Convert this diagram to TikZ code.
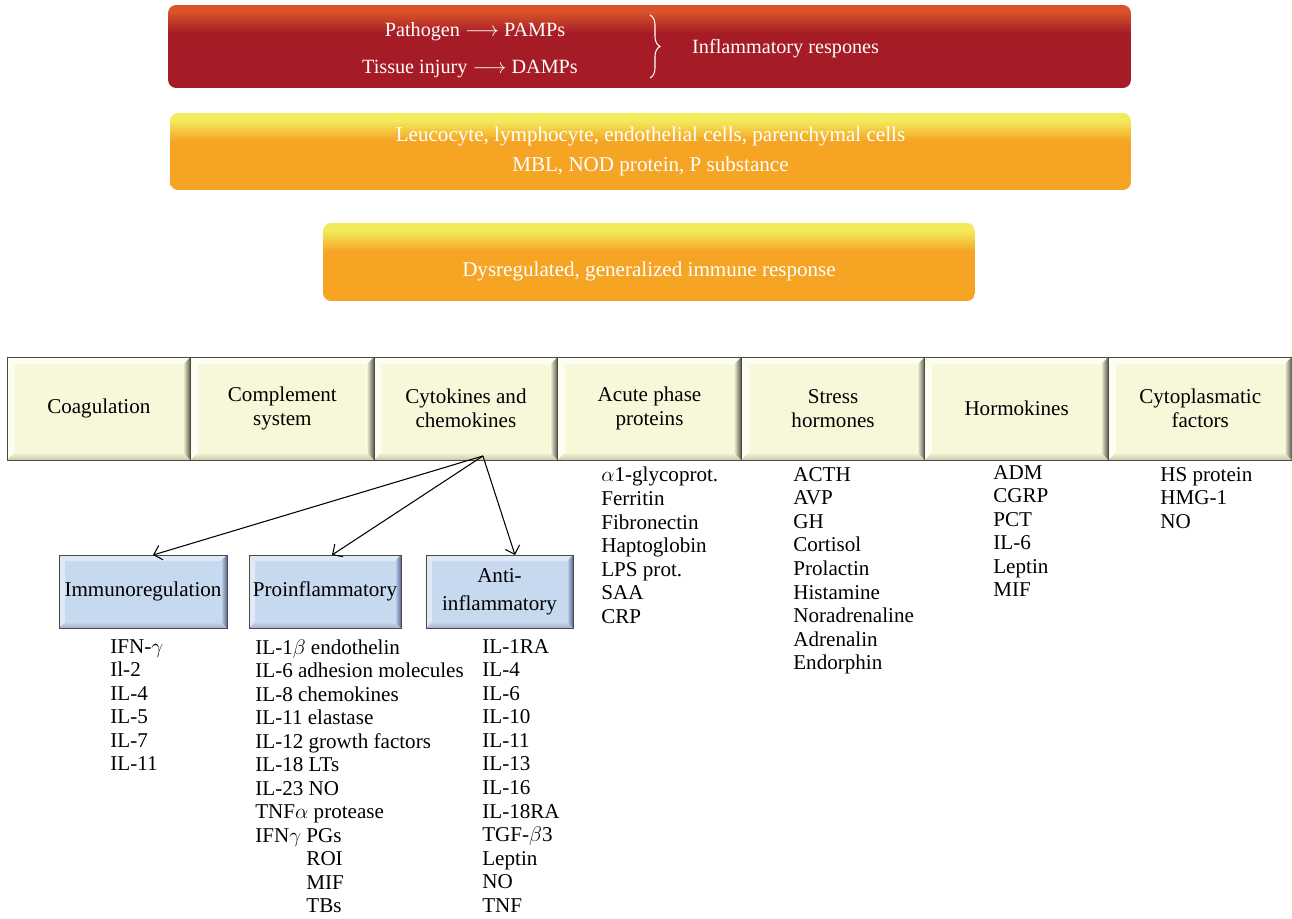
\documentclass[tikz,border=0pt]{standalone}
\usepackage{amsmath}
\usepackage{fontspec}
\setmainfont{Liberation Serif}
\usepackage{xcolor}
\usetikzlibrary{positioning,arrows.meta,calc,decorations.pathreplacing}
\definecolor{redtop}{HTML}{D9532B}
\definecolor{redbase}{HTML}{A51C26}
\definecolor{ambertop}{HTML}{F3EA5C}
\definecolor{amberbase}{HTML}{F5A424}
\definecolor{cream}{HTML}{F8F7D9}
\definecolor{creamlight}{HTML}{FDFDF1}
\definecolor{creamdark}{HTML}{55554A}
\definecolor{creamshade}{HTML}{C9C8AA}
\definecolor{sky}{HTML}{C7D9EF}
\definecolor{skylight}{HTML}{E0EAF7}
\definecolor{skydark}{HTML}{5A6699}
\definecolor{skyshade}{HTML}{A3B0D4}
\definecolor{edge}{HTML}{4A4A44}
\pgfdeclareverticalshading{redfade}{100bp}{color(0bp)=(redbase); color(58bp)=(redbase); color(71bp)=(redtop); color(100bp)=(redtop)}
\pgfdeclareverticalshading{amberfade}{100bp}{color(0bp)=(amberbase); color(57bp)=(amberbase); color(70bp)=(ambertop); color(100bp)=(ambertop)}
% bevel: size, light, base, dark, shade
\newcommand{\tilebevel}[5]{%
  \path (path picture bounding box.south west) coordinate (bsw)
        (path picture bounding box.north east) coordinate (bne);
  \fill[#2] (bsw|-bne) -- (bne) -- ($(bne)+(-#1,-#1)$) -- ($(bsw|-bne)+(#1,-#1)$) -- cycle;
  \fill[#2] (bsw) -- (bsw|-bne) -- ($(bsw|-bne)+(#1,-#1)$) -- ($(bsw)+(#1,#1)$) -- cycle;
  \shade[top color=#3,bottom color=#5] (bsw) -- (bne|-bsw) -- ($(bne|-bsw)+(-#1,#1)$) -- ($(bsw)+(#1,#1)$) -- cycle;
  \shade[left color=#3,right color=#4] (bne) -- (bne|-bsw) -- ($(bne|-bsw)+(-#1,#1)$) -- ($(bne)+(-#1,-#1)$) -- cycle;}

\begin{document}
\begin{tikzpicture}[
      x=0.02cm,y=-0.02cm,
      font=\fontsize{12}{13.4}\selectfont,
      band/.style={rounded corners=0.16cm,minimum height=1.54cm,text=white,align=center},
      tile/.style={draw=edge,line width=0.4pt,fill=cream,outer sep=0pt,inner sep=2pt,align=center,
        minimum width=3.672cm,minimum height=2.06cm,
        path picture={\tilebevel{0.15cm}{creamlight}{cream}{creamdark}{creamshade}}},
      subtile/.style={draw=edge,line width=0.4pt,fill=sky,outer sep=0pt,inner sep=1pt,align=center,
        minimum height=1.46cm,
        path picture={\tilebevel{0.12cm}{skylight}{sky}{skydark}{skyshade}}},
      entries/.style={anchor=north west,inner sep=0pt,align=left},
      arr/.style={-{Straight Barb[length=1.5mm,width=3mm]},line width=0.6pt}
    ]
      \useasboundingbox (0,0) rectangle (1292,919);

      % triggers
      \node[band,shading=redfade,minimum width=19.26cm,minimum height=1.66cm] (trigger) at (649.5,46.5) {};
      \node[text=white,font=\fontsize{11.5}{14}\selectfont] (pamps) at (475,32) {Pathogen $\longrightarrow$ PAMPs};
      \node[text=white,font=\fontsize{11.5}{14}\selectfont] (damps) at (470,69) {Tissue injury $\longrightarrow$ DAMPs};
      \draw[white,line width=0.6pt,decorate,decoration={brace,amplitude=0.2cm}] (650,15) -- (650,78);
      \node[text=white,font=\fontsize{11.5}{14}\selectfont,anchor=west] (inflam) at (686,49) {Inflammatory respones};

      \node[band,shading=amberfade,minimum width=19.22cm,font=\fontsize{12}{17}\selectfont] (cells) at (650.5,151.5)
        {Leucocyte, lymphocyte, endothelial cells, parenchymal cells\\MBL, NOD protein, P substance};
      \node[band,shading=amberfade,minimum width=13.04cm,minimum height=1.56cm,text height=17pt,text depth=0pt] (dysreg) at (649,262)
        {Dysregulated, generalized immune response};

      % mediator classes
      \node[tile] (coag) at (98.8,408.5) {Coagulation};
      \node[tile,right=0pt of coag] (compl) {Complement\\system};
      \node[tile,right=0pt of compl] (cyto) {Cytokines and\\chemokines};
      \node[tile,right=0pt of cyto] (acute) {Acute phase\\proteins};
      \node[tile,right=0pt of acute] (stress) {Stress\\hormones};
      \node[tile,right=0pt of stress] (hormo) {Hormokines};
      \node[tile,right=0pt of hormo] (cytopl) {Cytoplasmatic\\factors};

      % cytokine groups
      \node[subtile,minimum width=3.36cm] (immreg) at (143,591.5) {Immunoregulation};
      \node[subtile,minimum width=3.04cm] (proinf) at (325,591.5) {Proinflammatory};
      \node[subtile,minimum width=2.94cm,font=\fontsize{12}{16}\selectfont] (antiinf) at (499.5,591.5) {Anti-\\inflammatory};

      \coordinate (fork) at ([xshift=0.34cm,yshift=0.08cm]cyto.south);
      \draw[arr] (fork) -- ([xshift=0.2cm]immreg.north);
      \draw[arr] (fork) -- ([xshift=0.14cm]proinf.north);
      \draw[arr] (fork) -- ([xshift=0.31cm]antiinf.north);

      % lists
      \node[entries] (immlist) at (110,639) {IFN-$\gamma$\\Il-2\\IL-4\\IL-5\\IL-7\\IL-11};
      \node[entries] (prolist) at (255,639) {IL-1$\beta$ endothelin\\IL-6 adhesion molecules\\IL-8 chemokines\\IL-11 elastase\\IL-12 growth factors\\IL-18 LTs\\IL-23 NO\\TNF$\alpha$ protease\\IFN$\gamma$ PGs\\\hphantom{IFN$\gamma$ }ROI\\\hphantom{IFN$\gamma$ }MIF\\\hphantom{IFN$\gamma$ }TBs};
      \node[entries] (antilist) at (482,639) {IL-1RA\\IL-4\\IL-6\\IL-10\\IL-11\\IL-13\\IL-16\\IL-18RA\\TGF-$\beta$3\\Leptin\\NO\\TNF};
      \node[entries] (acutelist) at (601,467) {$\alpha$1-glycoprot.\\Ferritin\\Fibronectin\\Haptoglobin\\LPS prot.\\SAA\\CRP};
      \node[entries] (stresslist) at (793,467) {ACTH\\AVP\\GH\\Cortisol\\Prolactin\\Histamine\\Noradrenaline\\Adrenalin\\Endorphin};
      \node[entries] (hormlist) at (993,465) {ADM\\CGRP\\PCT\\IL-6\\Leptin\\MIF};
      \node[entries] (cytolist) at (1160,467) {HS protein\\HMG-1\\NO};
    \end{tikzpicture}
\end{document}
